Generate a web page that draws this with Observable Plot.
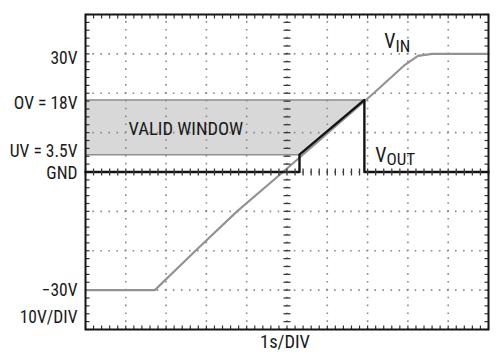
<!DOCTYPE html>
<html>
<head>
<meta charset="utf-8">
<script src="https://cdn.jsdelivr.net/npm/d3@7"></script>
<script src="https://cdn.jsdelivr.net/npm/@observablehq/plot@0.6"></script>
<style>
  html, body { margin: 0; padding: 0; background: #fff; }
</style>
</head>
<body>
<div id="chart"></div>
<script>
// ---- data ----
const vinTime  = [0, 1.72, 2.73, 3.76, 4.9, 7.15, 7.9, 8.25, 8.6, 10];
const vinVolts = [-30, -30, -20, -10, 0, 20, 27, 29.5, 30, 30];

const voutTime  = [0, 5.31, 5.31, 6.92, 6.92, 10];
const voutVolts = [0, 0, 4.4, 18.3, 0, 0];

const uvLevel = 4.4;    // UV threshold line
const ovLevel = 18.3;   // OV threshold line
const windowTime = [5.31, 6.92]; // where VIN crosses UV / OV

const yTickValues = [30, ovLevel, uvLevel, 0, -30];
const yTickLabels = ["30V", "OV = 18V", "UV = 3.5V", "GND", "\u221230V"];

const xMajor = [1, 2, 3, 4, 5, 6, 7, 8, 9];
const yMajor = [-30, -20, -10, 0, 10, 20, 30];
const xMinor = d3.range(0, 10.001, 0.2);
const yMinor = d3.range(-40, 40.001, 2);

// ---- helpers ----
const seg = (x1, y1, x2, y2) => ({
  draw(ctx, size) {
    const r = Math.sqrt(size / Math.PI);
    ctx.moveTo(x1 * r, y1 * r);
    ctx.lineTo(x2 * r, y2 * r);
  }
});
const ink = "#1a1a1a";
const font = "'Liberation Sans Narrow', 'Arial Narrow', 'Roboto Condensed', sans-serif";
const vin = vinTime.map((t, i) => ({t, v: vinVolts[i]}));
const vout = voutTime.map((t, i) => ({t, v: voutVolts[i]}));
const label = (d) => yTickLabels[yTickValues.indexOf(d)];
const yAxis = (ticks, dy) => Plot.axisY({ticks, tickFormat: label, tickSize: 0, tickPadding: 8, fontSize: 17.5, dy, label: null});

const chart = Plot.plot({
  width: 496,
  height: 357,
  marginTop: 14,
  marginBottom: 28,
  marginLeft: 85,
  marginRight: 8,
  style: {fontFamily: font, fontSize: "17.5px", background: "#fff", color: ink},
  x: {domain: [0, 10], axis: null},
  y: {domain: [-40, 40]},
  marks: [
    // valid window
    Plot.areaX({length: 2}, {y: [uvLevel, ovLevel], x1: 0, x2: windowTime, fill: "#d8d8d8"}),
    // dotted grid
    Plot.ruleX(xMajor, {stroke: "#8a8a8a", strokeWidth: 1.6, strokeDasharray: "1.6,6.275", strokeDashoffset: 0.8}),
    Plot.ruleY(yMajor, {stroke: "#8a8a8a", strokeWidth: 1.6, strokeDasharray: "1.6,6.46", strokeDashoffset: 0.8}),
    // window borders
    Plot.ruleY([uvLevel], {x1: 0, x2: windowTime[0], stroke: "#8f8f8f", strokeWidth: 1.6}),
    Plot.ruleY([ovLevel], {x1: 0, x2: windowTime[1], stroke: "#8f8f8f", strokeWidth: 1.6}),
    // edge ticks (inward)
    Plot.dot(yMinor, {x: 0, y: d => d, symbol: seg(0, 0, 1, 0), r: 4, stroke: "#333", strokeWidth: 1.2}),
    Plot.dot(yMinor, {x: 10, y: d => d, symbol: seg(-1, 0, 0, 0), r: 4, stroke: "#333", strokeWidth: 1.2}),
    Plot.dot(xMinor, {x: d => d, y: -40, symbol: seg(0, -1, 0, 0), r: 4, stroke: "#333", strokeWidth: 1.2}),
    Plot.dot(xMinor, {x: d => d, y: 40, symbol: seg(0, 0, 0, 1), r: 4, stroke: "#333", strokeWidth: 1.2}),
    // traces
    Plot.line(vin, {x: "t", y: "v", stroke: "#929292", strokeWidth: 2.1}),
    Plot.line(vout, {x: "t", y: "v", stroke: "#141414", strokeWidth: 2.4}),
    // center axis ticks
    Plot.dot(yMinor, {x: 5, y: d => d, symbol: seg(-1, 0, 1, 0), r: 3.5, stroke: "#3a3a3a", strokeWidth: 1.3}),
    Plot.dot(xMinor, {x: d => d, y: 0, symbol: seg(0, -1, 0, 1), r: 3.5, stroke: "#3a3a3a", strokeWidth: 1.3}),
    Plot.frame({stroke: "#141414", strokeWidth: 2}),
    // axis labels
    yAxis([30], 5),
    yAxis([ovLevel], 3),
    yAxis([uvLevel], -3.5),
    yAxis([0], 1.5),
    yAxis([-30], 0.5),
    Plot.text(["10V/DIV"], {frameAnchor: "bottom-left", textAnchor: "end", dx: -8, dy: -7, fontSize: 17.5, fill: ink}),
    Plot.text(["1s/DIV"], {frameAnchor: "bottom", dy: 18, dx: -2, fontSize: 18.5, fill: ink}),
    // annotations
    Plot.text(["VALID WINDOW"], {x: 1.07, y: 10.8, textAnchor: "start", fontSize: 18.5, fill: ink}),
    Plot.text(["V"], {x: 7.69, y: 33, textAnchor: "end", fontSize: 20, fill: ink}),
    Plot.text(["IN"], {x: 7.69, y: 33, textAnchor: "start", dy: 4.5, fontSize: 17, fill: ink}),
    Plot.text(["V"], {x: 7.47, y: 4.1, textAnchor: "end", fontSize: 20, fill: ink}),
    Plot.text(["OUT"], {x: 7.47, y: 4.1, textAnchor: "start", dy: 4, fontSize: 17, fill: ink})
  ]
});
document.getElementById("chart").appendChild(chart);
</script>
</body>
</html>
